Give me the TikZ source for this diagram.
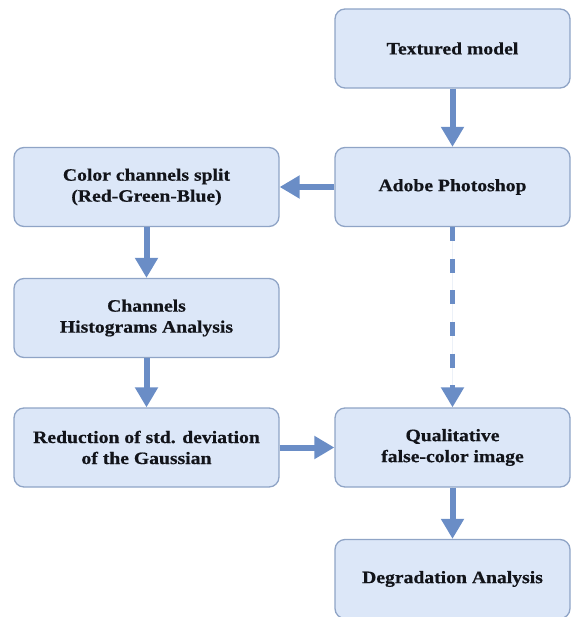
\documentclass[tikz,border=0pt]{standalone}
\usepackage{fontspec}
\newfontfamily\boxfont{Liberation Serif}[FakeStretch=1.13,BoldFeatures={FakeBold=0.6}]
\usetikzlibrary{arrows.meta}
\definecolor{boxfill}{HTML}{DCE7F8}
\definecolor{boxline}{HTML}{8FA4C6}
\definecolor{arrowc}{HTML}{6A8DC6}
\definecolor{txt}{HTML}{12141A}
\tikzset{
  flowbox/.style={draw=boxline, fill=boxfill, line width=1.3pt, rounded corners=10pt,
    inner sep=0pt, minimum height=79pt, align=center, text=txt,
    font=\boxfont\bfseries\fontsize{17.4}{21}\selectfont},
  leftbox/.style={flowbox, minimum width=265pt},
  rightbox/.style={flowbox, minimum width=235pt},
  flowarrow/.style={draw=arrowc, line width=6pt, -{Triangle[length=20pt,width=22pt]}, fill=arrowc},
  dasharrow/.style={flowarrow, line width=5.5pt, dash pattern=on 14pt off 17.6pt}
}
\begin{document}
\begin{tikzpicture}[x=1pt,y=-1pt]
\useasboundingbox (0,0) rectangle (571,617);
\node[rightbox] (tex) at (452.5,48.5) {Textured model};
\node[rightbox] (ps) at (452.5,187) {Adobe Photoshop};
\node[leftbox] (split) at (146.5,187) {Color channels split\\(Red-Green-Blue)};
\node[leftbox] (hist) at (146.5,318) {Channels\\Histograms Analysis};
\node[leftbox] (red) at (146.5,447.5) {Reduction of std. deviation\\of the Gaussian};
\node[rightbox] (qual) at (452.5,447.5) {Qualitative\\false-color image};
\node[rightbox] (deg) at (452.5,579) {Degradation Analysis};
\draw[flowarrow] (tex) -- (ps);
\draw[flowarrow] (ps) -- (split);
\draw[flowarrow] (split) -- (hist);
\draw[flowarrow] (hist) -- (red);
\draw[flowarrow] (red) -- (qual);
\draw[dasharrow] (ps) -- (qual);
\draw[flowarrow] (qual) -- (deg);
\end{tikzpicture}
\end{document}
